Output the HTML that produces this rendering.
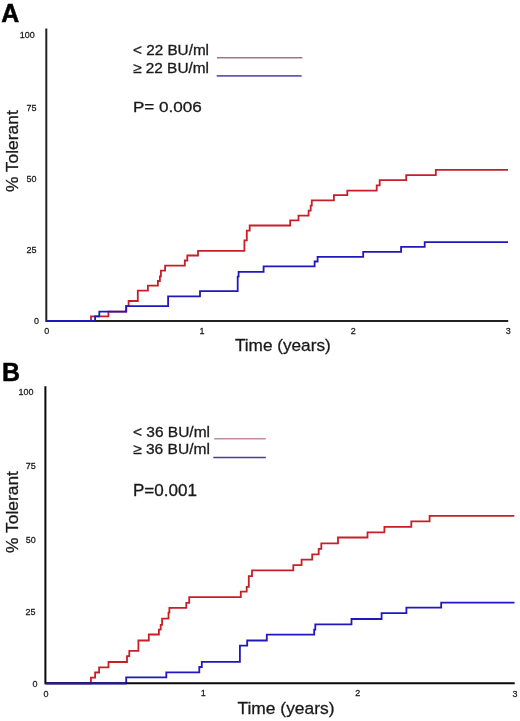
<!DOCTYPE html>
<html>
<head>
<meta charset="utf-8">
<style>
html,body{margin:0;padding:0;background:#fff;}
body{width:520px;height:721px;overflow:hidden;}
svg{display:block;will-change:transform;}
text{font-family:"Liberation Sans",sans-serif;fill:#1a1a1a;}
.tk{font-size:9px;stroke:#1a1a1a;stroke-width:0.25;}
.ttl{font-size:17.4px;stroke:#1a1a1a;stroke-width:0.3;}
.lg{font-size:14.6px;stroke:#1a1a1a;stroke-width:0.3;}
.pv{font-size:16px;stroke:#1a1a1a;stroke-width:0.3;}
.pn{font-size:24.9px;font-weight:bold;fill:#000;stroke:#000;stroke-width:0.5;}
.ax{stroke:#111;stroke-width:2;fill:none;}
.rd{stroke:#c81e28;stroke-width:1.8;fill:none;}
.bl{stroke:#2018bc;stroke-width:1.8;fill:none;}
</style>
</head>
<body>
<svg width="520" height="721" viewBox="0 0 520 721">
<!-- Panel A -->
<text class="pn" x="1.3" y="22.1">A</text>
<text class="tk" transform="translate(34.7,37.5) scale(1,1.1)" text-anchor="end">100</text>
<text class="tk" transform="translate(36.6,110.9) scale(1,1.1)" text-anchor="end">75</text>
<text class="tk" transform="translate(36.6,182.4) scale(1,1.1)" text-anchor="end">50</text>
<text class="tk" transform="translate(36.6,253.0) scale(1,1.1)" text-anchor="end">25</text>
<text class="tk" transform="translate(39.0,324.3) scale(1,1.1)" text-anchor="end">0</text>
<text class="tk" transform="translate(46.8,333.9) scale(1,1.1)" text-anchor="middle">0</text>
<text class="tk" transform="translate(201.9,333.8) scale(1,1.1)" text-anchor="middle">1</text>
<text class="tk" transform="translate(353.3,333.8) scale(1,1.1)" text-anchor="middle">2</text>
<text class="tk" transform="translate(508.3,333.6) scale(1,1.1)" text-anchor="middle">3</text>
<text class="ttl" transform="translate(282.8,351.2)" text-anchor="middle" style="font-size:17.2px">Time (years)</text>
<text class="ttl" transform="translate(17.6,151.2) rotate(-90)" text-anchor="middle">% Tolerant</text>
<text class="lg" x="133" y="55.3" textLength="76" lengthAdjust="spacingAndGlyphs">&lt; 22 BU/ml</text>
<text class="lg" x="133" y="72.6" textLength="76" lengthAdjust="spacingAndGlyphs">&#8805; 22 BU/ml</text>
<line x1="217" y1="57.7" x2="302.4" y2="57.7" stroke="#a07880" stroke-width="1.5"/>
<line x1="216.7" y1="75.9" x2="301.6" y2="75.9" stroke="#605ab4" stroke-width="1.6"/>
<text class="pv" x="132.9" y="111.6" style="font-size:15.2px" textLength="69" lengthAdjust="spacingAndGlyphs">P= 0.006</text>

<path class="rd" d="M46.3,320.9 H91 V316.4 H108.4 V311.6 H126.2 V306.2 H128.6 V301 H137.8 V290.6 H147.9 V285.6 H157.9 V281 H159.9 V276.4 H160.9 V270.7 H165.1 V265.6 H184.8 V260.5 H187.3 V255.5 H198 V250.8 H244.4 V240.4 H246.8 V230.7 H249.7 V225.5 H290.2 V220.3 H298.5 V215.6 H308.6 V210.6 H310.7 V205.6 H311.8 V200.3 H333.9 V195.1 H347.3 V190.6 H376.7 V185.4 H379.7 V180.1 H406.2 V175.1 H435.8 V169.9 H508"/>
<path class="bl" d="M46.3,320.9 H95.1 V316.3 H99.3 V311.6 H126.2 V306.2 H168.1 V296.4 H200 V291.1 H237.7 V276.7 H238.6 V271.8 H263.6 V266.3 H314.6 V261.5 H317.6 V256.9 H363.2 V251.8 H401.1 V246.9 H424.7 V242.1 H508"/>
<path class="ax" style="stroke:#222" d="M46.3,28.5 V320.9 H508.2"/>
<path class="bl" d="M46.3,320.9 H95.3"/>

<!-- Panel B -->
<text class="pn" x="1.9" y="381.3">B</text>
<text class="tk" transform="translate(33.6,395.2) scale(1,1.1)" text-anchor="end">100</text>
<text class="tk" transform="translate(35.8,469.4) scale(1,1.1)" text-anchor="end">75</text>
<text class="tk" transform="translate(35.8,542.8) scale(1,1.1)" text-anchor="end">50</text>
<text class="tk" transform="translate(35.6,614.7) scale(1,1.1)" text-anchor="end">25</text>
<text class="tk" transform="translate(37.5,687.0) scale(1,1.1)" text-anchor="end">0</text>
<text class="tk" transform="translate(46.1,696.5) scale(1,1.1)" text-anchor="middle">0</text>
<text class="tk" transform="translate(203.2,695.8) scale(1,1.1)" text-anchor="middle">1</text>
<text class="tk" transform="translate(357.8,695.9) scale(1,1.1)" text-anchor="middle">2</text>
<text class="tk" transform="translate(515.0,696.7) scale(1,1.1)" text-anchor="middle">3</text>
<text class="ttl" x="286" y="714.3" text-anchor="middle">Time (years)</text>
<text class="ttl" transform="translate(18.3,512) rotate(-90)" text-anchor="middle">% Tolerant</text>
<text class="lg" x="133" y="436.7" textLength="77" lengthAdjust="spacingAndGlyphs">&lt; 36 BU/ml</text>
<text class="lg" x="133" y="454.3" textLength="77" lengthAdjust="spacingAndGlyphs">&#8805; 36 BU/ml</text>
<line x1="214.2" y1="438.8" x2="265.8" y2="438.8" stroke="#c88c96" stroke-width="1.6"/>
<line x1="213.3" y1="457.5" x2="265.8" y2="457.5" stroke="#463ca8" stroke-width="1.4"/>
<text class="pv" x="132.9" y="496.4" textLength="64" lengthAdjust="spacingAndGlyphs">P=0.001</text>

<path class="rd" d="M45.4,683.3 H90.9 V677.7 H95.1 V672.5 H99.1 V667.4 H108.5 V662 H127 V656.2 H129.3 V650.9 H138.4 V640.5 H148.8 V634.5 H158.9 V629.7 H160.7 V624.8 H162.1 V618.7 H168.5 V612.7 H169.4 V607.8 H186.3 V602.8 H189.2 V597.2 H240.8 V591.7 H246.7 V586.8 H248.8 V576.1 H252 V570.3 H293.3 V565.2 H301.6 V559.6 H312.2 V554.4 H318.7 V548.8 H321.3 V543.3 H338 V537.5 H367.5 V532.3 H384.4 V526.8 H411.3 V521.3 H429.6 V515.9 H514.3"/>
<path class="bl" d="M45.4,683.3 H126.2 V677.4 H166.3 V672.3 H199.3 V667 H201.8 V661.9 H239.9 V645.7 H247.2 V640.5 H266.8 V634.6 H314.2 V629.6 H315.3 V624.4 H351.5 V619.0 H381.6 V613.1 H406.4 V607.7 H441.2 V602.6 H514.5"/>
<path class="ax" style="stroke:#080808" d="M45.4,386.2 V683.35 H514.7"/>
<path class="bl" d="M45.4,683.3 H126.2"/>
</svg>
</body>
</html>
